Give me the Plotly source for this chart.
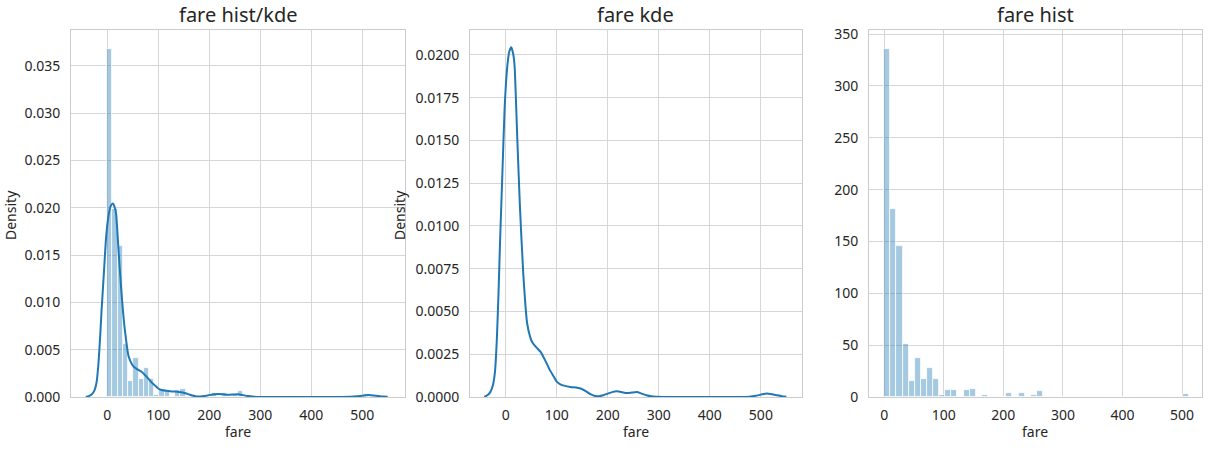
import numpy as np
import plotly.graph_objects as go

# ---------------- data ----------------
fare_min = 0.0
fare_max = 512.3292
n_bins = 50
n_passengers = 891

# histogram counts per bin (50 equal bins from fare_min to fare_max)
hist_counts = [336, 181, 146, 51, 15, 38, 17, 28, 17, 2,
               7, 7, 0, 7, 8, 0, 2, 0, 0, 0,
               4, 0, 4, 0, 2, 6, 0, 0, 0, 0,
               0, 0, 0, 0, 0, 0, 0, 0, 0, 0,
               0, 0, 0, 0, 0, 0, 0, 0, 0, 3]

# KDE curve
kde_x = [-42, -36, -30, -25, -21, -17.5, -14, -11, -6.5, -2, 3, 7, 11, 15, 17.5,
         22.8, 27.9, 34.4, 42, 48, 52, 60, 68, 78, 86, 94, 100, 107, 116,
         127, 140, 148, 159, 167, 175, 183, 191, 200, 210, 218, 228, 237,
         247, 257, 266, 276, 285, 295, 320, 400, 460, 477, 490, 500, 512,
         522, 532, 541, 550]
kde_y = [0.0, 0.0001, 0.0003, 0.0007, 0.0015, 0.0033, 0.0062, 0.0092, 0.0131, 0.0170,
         0.0193, 0.0202, 0.02045, 0.0200, 0.0193, 0.0150, 0.0111, 0.0072,
         0.0043, 0.0035, 0.0032, 0.0029, 0.00265, 0.0021, 0.0016, 0.0012,
         0.0009, 0.00074, 0.00065, 0.00059, 0.00054, 0.00048, 0.0003,
         0.00015, 0.00006, 0.00005, 0.0001, 0.0002, 0.0003, 0.00033,
         0.00028, 0.00023, 0.00026, 0.00029, 0.0002, 0.0001, 0.00004,
         0.00001, 0.0, 0.0, 0.0, 0.00002, 0.00007, 0.00014, 0.0002,
         0.00016, 0.0001, 0.00005, 0.00002]

titles = ["fare hist/kde", "fare kde", "fare hist"]
x_label = "fare"
y_label = "Density"

# ---------------- derived ----------------
edges = np.linspace(fare_min, fare_max, n_bins + 1)
bin_w = edges[1] - edges[0]
centers = (edges[:-1] + edges[1:]) / 2
counts = np.array(hist_counts, dtype=float)
density = counts / (n_passengers * bin_w)

W, H = 1220, 454
FONT = "Noto Sans, DejaVu Sans, sans-serif"
TXT = "#262626"
GRID = "#d6d6d6"
FRAME = "#cccccc"
BLUE = "#1f77b4"
BAR_FILL = "rgba(31,119,180,0.4)"

# axes pixel boxes: (left, right)
boxes = [(71, 404.5), (470, 801.7), (869, 1201.7)]
top_px, bot_px = 30, 397
ydom = [1 - bot_px / H, 1 - top_px / H]

fig = go.Figure()

line_style = dict(color=BLUE, width=2, shape="spline", smoothing=0.5)
# panel 1: hist (density) + kde
fig.add_trace(go.Bar(x=centers, y=density, width=bin_w,
                     marker=dict(color=BAR_FILL, line=dict(color="white", width=0.8)),
                     xaxis="x", yaxis="y", showlegend=False))
fig.add_trace(go.Scatter(x=kde_x, y=kde_y, mode="lines", line=line_style,
                         xaxis="x", yaxis="y", showlegend=False))
# panel 2: kde only
fig.add_trace(go.Scatter(x=kde_x, y=kde_y, mode="lines", line=line_style,
                         xaxis="x2", yaxis="y2", showlegend=False))
# panel 3: hist counts
fig.add_trace(go.Bar(x=centers, y=counts, width=bin_w,
                     marker=dict(color=BAR_FILL, line=dict(color="white", width=0.8)),
                     xaxis="x3", yaxis="y3", showlegend=False))

common_axis = dict(showgrid=True, gridcolor=GRID, gridwidth=1, zeroline=False,
                   showline=True, linecolor=FRAME, linewidth=1, mirror=True,
                   automargin=False,
                   ticks="", tickfont=dict(family=FONT, size=14, color=TXT))

xranges = [[-71, 583], [-70, 580], [-25.6, 533]]
yranges = [[0, 0.03878], [0, 0.02146], [0, 354]]
ytick = [dict(tickvals=[0.005 * i for i in range(8)], tickformat=".3f"),
         dict(tickvals=[0.0025 * i for i in range(9)], tickformat=".4f"),
         dict(tickvals=[50 * i for i in range(8)], tickformat="d")]

layout = dict(width=W, height=H, margin=dict(l=0, r=0, t=0, b=0, autoexpand=False),
              paper_bgcolor="white", plot_bgcolor="white", bargap=0,
              font=dict(family=FONT, color=TXT))
for i, (l, r) in enumerate(boxes):
    sfx = "" if i == 0 else str(i + 1)
    layout["xaxis" + sfx] = dict(common_axis, domain=[l / W, r / W], range=xranges[i],
                                 tickvals=[0, 100, 200, 300, 400, 500],
                                 anchor="y" + sfx, ticklabelstandoff=5)
    layout["yaxis" + sfx] = dict(common_axis, domain=ydom, range=yranges[i],
                                 anchor="x" + sfx, ticklabelstandoff=7, **ytick[i])
fig.update_layout(**layout)

ann = []
for i, (l, r) in enumerate(boxes):
    ann.append(dict(text=titles[i], x=(l + r) / 2 / W, y=1 - 14 / H, xref="paper", yref="paper",
                    xanchor="center", yanchor="middle", showarrow=False,
                    font=dict(family=FONT, size=20, color=TXT)))
    ann.append(dict(text=x_label, x=(l + r) / 2 / W, y=1 - 431 / H, xref="paper", yref="paper",
                    xanchor="center", yanchor="middle", showarrow=False,
                    font=dict(family=FONT, size=14, color=TXT)))
for xp in [10, 399]:
    ann.append(dict(text=y_label, x=xp / W, y=1 - 215 / H, xref="paper", yref="paper",
                    xanchor="center", yanchor="middle", showarrow=False, textangle=-90,
                    font=dict(family=FONT, size=14, color=TXT)))
fig.update_layout(annotations=ann)

fig.write_html("out.html", config={"displayModeBar": False},
               post_script="document.body.style.margin='0';document.body.style.padding='0';document.body.style.overflow='hidden';")
